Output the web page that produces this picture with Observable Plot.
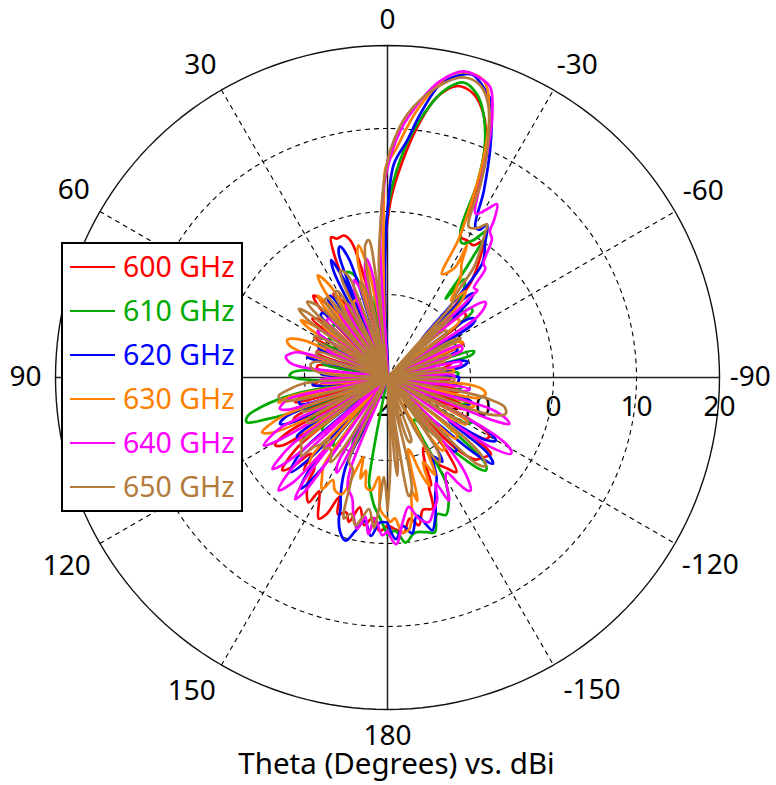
<!DOCTYPE html>
<html><head><meta charset="utf-8">
<script src="https://cdn.jsdelivr.net/npm/d3@7"></script>
<script src="https://cdn.jsdelivr.net/npm/@observablehq/plot@0.6"></script>
<style>
html,body{margin:0;padding:0;background:#fff}
#wrap{position:relative;width:776px;height:785px;overflow:hidden}
#legend{position:absolute;left:61px;top:242px;width:178px;height:266px;border:2px solid #000;background:#fff;font:28.5px "Noto Sans",sans-serif}
#legend div{position:absolute;left:60px;line-height:30px;white-space:nowrap}
#legend i{position:absolute;left:7px;width:45px;height:2px}
</style></head><body><div id="wrap"></div>
<script>
const s600=[[-180,-2.2],[-176,-1.5],[-174,-1.2],[-171,-2.8],[-168,-1.8],[-165,-3.5],[-161,-3.3],[-159,-6],[-158,-6],[-156,-9],[-153,-10.5],[-150,-8],[-147,-7],[-144,-5.9],[-141,-9],[-139,-15],[-136,-8],[-133,-5.5],[-130,-5],[-126.5,-4.5],[-124,-8],[-122,-6],[-119.8,-5.9],[-117,-9],[-115,-16],[-112.5,-10],[-110,-10.5],[-107,-18],[-103,-12],[-100,-11],[-97,-20],[-92,-12.5],[-90,-13],[-87,-20],[-80,-13],[-77,-12],[-74,-20],[-66,-10],[-63,-10.5],[-60,-18],[-52,-8],[-48,-8],[-45,-9],[-41,-4.5],[-38,-2],[-35,0],[-33,-1],[-30,-0.9],[-27.5,-0.9],[-26,2.8],[-24.5,7],[-22.2,11.3],[-20,13.8],[-16.9,15.7],[-13.4,16.1],[-10,14.3],[-6.8,10.4],[-3.5,5.4],[-1,1.3],[0.9,-3.9],[1.8,-10],[3,-20],[6,-12],[8,-11],[10,-18],[13,-8],[15,-3],[17.1,-2.1],[20,-2.2],[21.9,-1.8],[23.5,-4],[25,-10],[27,-20],[31,-9],[33,-8],[35,-17],[40,-8],[42.2,-6.7],[44,-8],[46,-18],[50,-9],[52,-8.5],[54,-18],[59,-10.5],[61,-10],[63,-20],[69,-11],[71,-11],[73,-20],[80,-11.5],[83,-11.5],[86,-20],[93,-12],[96,-11],[98,-20],[103,-9],[105,-8.5],[107,-20],[113,-8],[115,-7.5],[117,-17],[119,-6],[121,-4.2],[123,-5],[125,-14],[128,-6],[131.4,-3.1],[133,-4],[135,-7],[138,-5],[141,-6],[143,-4],[147.7,-2.2],[149,-4],[151,-3],[154,-1.1],[156,-2],[158,-4.5],[160,-2.5],[163,-3],[165,-2],[168,-4],[171,-2],[174,-3],[177,-1.5],[180,-2.2]];
const s610=[[-180,-1],[-177,-1.5],[-173.8,0],[-170,-1],[-166,-0.8],[-163,-0.5],[-160,-2.5],[-157,-2],[-154,-3.2],[-151,-5.5],[-148,-14],[-142,-12],[-138,-8],[-135,-4.5],[-133.5,-3.7],[-131.5,-4.2],[-129,-11],[-126,-18],[-120,-9],[-118,-8.5],[-116,-18],[-110,-10.5],[-108,-10],[-106,-20],[-100,-11.5],[-97,-11],[-95,-20],[-88,-11.5],[-86,-11.5],[-84,-20],[-75,-9.5],[-73,-9.1],[-71,-20],[-65,-11],[-62,-11],[-60,-20],[-52,-7],[-50,-7],[-48,-16],[-44,-8],[-41,-6],[-38,-5],[-36.4,-8.2],[-35.7,-3.9],[-34.1,1.4],[-32,-0.5],[-29,-1.5],[-26.4,-0.2],[-24.8,5.7],[-22.9,10.1],[-20,13.8],[-17.5,15.8],[-14.5,16.7],[-11.1,15.2],[-7.8,12],[-4.1,7.4],[-0.9,2.1],[1,-3],[2,-9],[3,-20],[7,-11],[9,-10],[11,-20],[16,-9],[18,-7],[21,-6.4],[23,-8],[25,-18],[32,-10],[34,-9.5],[36,-20],[45,-11],[47,-11],[49,-20],[55,-12],[57,-11.5],[59,-20],[62,-12],[64.3,-10.8],[66,-12],[68,-20],[76,-12],[78,-12],[80,-20],[85,-10],[87,-8.5],[88.8,-8.2],[90.5,-9],[92,-11],[94,-14],[96,-20],[100,-9],[103,-4.5],[105.5,-2.5],[107.6,-2.2],[109,-4.5],[110.5,-9],[112,-20],[118,-10],[120,-9.5],[122,-20],[128,-10],[130,-10],[132,-20],[140,-10],[142,-9.5],[144,-20],[152,-11],[154,-11],[156,-20],[169.5,-20],[170,-7.2],[171,-6.5],[174,-4.5],[177,-3],[180,-1]];
const s620=[[-180,-2.5],[-177,-0.5],[-174,-2],[-171,-1],[-168,-3],[-165,-1.5],[-163.7,-0.8],[-160.8,-2.4],[-157.9,-4.7],[-154,-6.5],[-150,-9],[-147,-7.9],[-145,-10],[-141,-17],[-138,-8],[-136,-8],[-134,-13],[-131,-6],[-129.3,-3.6],[-127,-5],[-125,-11],[-122.5,-6],[-120.2,-4.9],[-118,-6.5],[-116,-16],[-110,-10],[-106,-9.5],[-103,-20],[-96,-12],[-94,-11.5],[-91.6,-11.4],[-89.7,-11.4],[-87,-18],[-82,-11],[-79,-10.2],[-77,-11],[-75,-20],[-69,-11],[-67,-11],[-65,-20],[-58,-8],[-56.3,-7.3],[-54,-8],[-52,-18],[-47,-6.5],[-45.5,-5.5],[-44,-7],[-42,-14],[-39.8,-2.2],[-36,0],[-34,1.5],[-33,2],[-32,1],[-30.3,1],[-27.3,5.3],[-23.8,10.8],[-20.4,15.6],[-18,17],[-15.6,17.9],[-13,17.3],[-10.2,15.9],[-7.1,12],[-4.7,8.6],[-1.7,5.7],[0,0],[1,-5],[2,-12],[3,-20],[12,-10],[14,-9],[16,-20],[18,-5],[20,-3.2],[21.5,-4],[23,-15],[24,-7],[25.6,-4.3],[27,-6],[29,-20],[35,-8],[37,-8],[39,-20],[45,-9],[47,-9],[49,-20],[55,-10],[57,-10],[59,-20],[65,-11],[67,-11],[69,-20],[74,-11],[76,-10],[78,-20],[85,-12],[87,-12],[89,-20],[94,-11],[96,-11],[98,-20],[105,-9],[107,-9],[109,-20],[111,-7],[113.4,-5.9],[115,-7],[117,-20],[123,-7],[125,-7],[127,-20],[131,-6],[134.3,-3.7],[136,-6],[138,-15],[140,-5],[142,-3],[144,-6],[146,-20],[155,-8],[158,-5],[160.3,-3.2],[161,-2],[163,-0.5],[165.6,0.3],[168,-1],[171,-2.5],[174,-0.8],[177,-2.5],[180,-2.5]];
const s630=[[-180,-3],[-178.8,-2.6],[-177,-3],[-174.6,-1.3],[-172,-1.5],[-170,-3],[-168,-6],[-166.4,-4.7],[-165,-10],[-164,-11],[-163,-10.8],[-161,-8],[-159,-6],[-157,-9],[-154,-6.9],[-151,-12],[-149,-20],[-143,-9],[-141,-9],[-139,-20],[-132,-9],[-130,-9],[-128,-20],[-121,-9],[-119,-9],[-117,-20],[-110,-9.5],[-108,-9],[-106,-20],[-103,-9],[-101,-8.3],[-99.5,-8],[-97,-8.5],[-95,-10],[-93,-20],[-85,-12],[-83,-12],[-81,-20],[-75,-13],[-72,-13],[-70,-20],[-66,-10.5],[-64.7,-10],[-63,-10.5],[-61,-20],[-52,-9],[-50,-9],[-48,-15],[-44,-7],[-42,-6],[-40,-8],[-36,-5],[-33,-3.6],[-31,-1.4],[-31.5,-4.5],[-27.8,-5.9],[-27.2,-1.2],[-25.2,4.5],[-23.6,9],[-21.3,13.7],[-18,17.6],[-14,17.9],[-11.2,16.9],[-6.3,12.4],[-2,7.4],[0.5,5.3],[1.2,1],[2,-6],[3,-14],[4,-20],[8,-13],[10,-7],[12.3,-3.7],[14,-5],[15.5,-12],[17,-20],[22,-10],[24,-10],[26,-20],[32,-7],[34.3,-5.1],[36,-7],[37.5,-20],[39,-9],[40.5,-7],[42,-9],[43.5,-20],[49,-10],[51,-10],[53,-20],[55,-9],[56.6,-7.5],[58,-9],[60,-20],[66,-9],[68,-7.5],[69.4,-7.1],[72,-7.6],[74,-10],[76,-20],[84,-11],[86,-13],[88,-20],[92,-12],[95,-12],[97,-20],[101,-8],[103,-6.5],[105,-20],[110,-7],[112,-4.5],[113.6,-3.5],[115.5,-4.5],[117,-8],[119,-20],[124,-8],[126,-7],[128,-20],[136,-7],[138,-6],[140,-20],[144,-7],[147,-5.5],[149.6,-4.4],[152,-6],[155,-5],[158.7,-4.9],[161,-8],[163,-10],[165,-7.4],[167,-8.5],[169,-6.5],[172,-6.3],[175,-8],[177,-4],[180,-3]];
const s640=[[-180,-1.5],[-177,0.1],[-174,-2.5],[-170.7,-4.2],[-167.5,-2.6],[-164,-1.9],[-161,-3],[-157.7,-4.2],[-155.5,-6],[-153.5,-3.4],[-150,-6],[-148,-6.5],[-146.4,-4.9],[-145,-3.5],[-143.7,-3.1],[-141,-5],[-139,-9],[-136,-20],[-133,-11.5],[-131,-20],[-124,-5],[-121.6,-2.5],[-120,-3],[-118,-5.7],[-116,-15],[-115,-20],[-112,-6],[-110.8,-4.3],[-109,-5],[-107,-7],[-105,-20],[-100,-10.5],[-98,-10],[-96,-20],[-90,-12],[-88,-12],[-86,-20],[-80,-11],[-78,-11],[-76,-20],[-70,-10.5],[-67.9,-10.3],[-66,-10.5],[-64,-20],[-56,-7],[-53.5,-5.3],[-52.4,-5.1],[-50,-7],[-48,-13],[-46,-5.5],[-45.9,-4.9],[-44,-5],[-42,-2.4],[-40,-2],[-37,0.9],[-35,1.5],[-34.1,2.9],[-32.3,4.7],[-30.5,3.5],[-28.3,2.4],[-26,5.1],[-24,9.5],[-21.9,13.8],[-19.5,17.1],[-17,17.8],[-14,18],[-10.1,16.3],[-6.8,13.6],[-3,9.8],[0.6,4.1],[2.9,-3.1],[3.5,-10],[4,-20],[8,-8],[10,-5.5],[12,-7],[14,-20],[17,-9],[19,-7.6],[21,-9],[23,-20],[28,-10],[30,-10],[32,-20],[35,-11],[37,-10.5],[39,-20],[45,-10],[47,-10],[49,-20],[55,-10],[57,-10],[59,-20],[63,-13],[66,-12],[69,-20],[74,-9],[76,-8],[78.4,-7.5],[81,-8],[83,-9.5],[85,-20],[92,-12],[94,-12],[96,-20],[102,-8],[104,-7],[106.2,-6.5],[108,-7.5],[110,-20],[115,-6],[117,-4],[118.8,-3],[120,-5],[122,-20],[125,-6],[127,-3.5],[128.4,-2.3],[130,-4],[132,-20],[133,-6],[134.5,-2.5],[136,-1.1],[138,-3],[139.5,-10],[141,-4],[142.8,-1.6],[144,-3],[146,-20],[150,-8],[152,-7],[154,-20],[158,-8],[160,-6],[163.8,-4.8],[166,-3],[168.7,-1.4],[171,-3],[173,-1],[175,-3],[178,-1],[180,-1.5]];
const s650=[[-180,-4],[-178,-10],[-176,-20],[-175,-10],[-174.4,-8.1],[-173,-10],[-171,-20],[-170.5,-7],[-169.8,-5.5],[-168,-6],[-166.5,-9],[-165,-20],[-162,-12],[-160.5,-11.7],[-159,-12],[-157,-20],[-152,-12],[-148.8,-8],[-146,-9],[-144,-20],[-141,-11],[-139,-10],[-137,-20],[-134,-5],[-132,-4.1],[-130,-5],[-128,-8],[-126,-20],[-120,-9],[-118,-9],[-116,-20],[-110,-7],[-107,-5.1],[-104,-5.5],[-102,-7.5],[-101,-10],[-99,-20],[-93,-12],[-91,-12],[-89,-20],[-83,-13],[-81,-13],[-79,-20],[-72,-12],[-70,-12],[-68,-20],[-62,-10],[-60,-11],[-58,-20],[-53,-11],[-51,-11],[-49,-20],[-47,-9.5],[-46,-20],[-44.5,-9],[-43.5,-20],[-42,-8.5],[-41.5,-20],[-41.3,-8.2],[-39.5,-7],[-38,-3],[-36,-1],[-34.5,0.5],[-33,2],[-31,1],[-28.4,0.6],[-25.7,5.9],[-23.7,9.9],[-20.5,14.8],[-17.7,16.9],[-14.3,17.3],[-9.7,15.5],[-4.3,11.8],[-0.8,7.5],[1,3.7],[2.6,-1.5],[4.4,-6.3],[5.5,-12],[6,-20],[6.5,-8],[7.8,-3.3],[9.5,-3.8],[11,-7],[12,-20],[14,-9],[16,-8],[18,-20],[21,-7],[23.7,-5.9],[25,-7],[27,-20],[30,-8],[32,-8],[34,-20],[37,-8],[39,-8],[41,-20],[44,-8],[46.8,-6.7],[48,-8],[50,-20],[51,-7.5],[52.2,-6.5],[54,-8],[56,-20],[60,-10],[62,-10],[64,-20],[70,-11],[72,-11],[74,-20],[76,-13],[78,-11],[80.4,-10.6],[84,-11],[87,-13],[89,-20],[94,-10],[97,-8],[99.7,-6.7],[102,-7],[104,-9],[106,-20],[110,-9],[112,-9],[114,-20],[118,-9],[120,-9],[122,-20],[127,-7],[130,-6.5],[132.3,-5.9],[133.5,-8],[134.7,-8.4],[136,-10],[138,-8.5],[141,-9],[144,-8.5],[146,-7.7],[148,-10],[150,-20],[155,-9],[157,-8.5],[159,-8.3],[162,-3],[162.8,-2.2],[165,-3],[167.8,-1.8],[170,-3],[172,-4],[174.8,-1.8],[176.2,-4.1],[178,-8],[180,-4]];

const seriesNames=["600 GHz","610 GHz","620 GHz","630 GHz","640 GHz","650 GHz"];
const seriesData=[s600,s610,s620,s630,s640,s650];
const seriesColors=["#ff0000","#00aa00","#0000ff","#ff8000","#ff00ff","#b47b3c"];
const rMin=-20, pxPerDb=8.3, cx=387, cy=377;
const ringLevels=[-10,0,10];
const ringLabels=[-20,-10,0,10,20];
const solidSpokes=[0,90];
const dashSpokes=[30,60,120,150];
const thetaLabels=["0","30","60","90","120","150","180","-30","-60","-90","-120","-150"];
const thetaLabelAngle=[0,30.9,59.2,90,120.4,148,180,-31.3,-59.4,-90,-120.2,-146.8];
const thetaLabelDist=[43.1,43.9,44,43.6,44.8,44.5,43.2,44,44.2,43.7,45,45];

const W=776,H=785;
const X=(t,d)=>-(d-rMin)*Math.sin(t*Math.PI/180);
const Y=(t,d)=>(d-rMin)*Math.cos(t*Math.PI/180);
const FONT='"Noto Sans",sans-serif';
const circle=d3.range(0,361,2);

const marks=[];
for(const lv of ringLevels) marks.push(Plot.line(circle,{x:a=>X(a,lv),y:a=>Y(a,lv),stroke:"#000",strokeWidth:1.1,strokeDasharray:"4,5"}));
for(const a of dashSpokes) marks.push(Plot.line([a,a+180],{x:t=>X(t,20),y:t=>Y(t,20),stroke:"#000",strokeWidth:1.1,strokeDasharray:"4,5"}));
for(const a of solidSpokes) marks.push(Plot.line([a,a+180],{x:t=>X(t,20),y:t=>Y(t,20),stroke:"#222",strokeWidth:1.5}));
marks.push(Plot.line(circle,{x:a=>X(a,20),y:a=>Y(a,20),stroke:"#111",strokeWidth:1.4}));
marks.push(Plot.text(ringLabels,{x:d=>X(-90,d),y:d=>Y(-90,d),text:d=>String(d),dy:30,fill:"#000",fontSize:28}));
marks.push(Plot.text(thetaLabels,{x:(t,i)=>X(thetaLabelAngle[i],thetaLabelDist[i]-20),y:(t,i)=>Y(thetaLabelAngle[i],thetaLabelDist[i]-20),text:t=>t,fill:"#000",fontSize:28}));
seriesData.forEach((s,i)=>marks.push(Plot.line(s,{x:d=>X(d[0],d[1]),y:d=>Y(d[0],d[1]),stroke:seriesColors[i],strokeWidth:2.7,strokeLinejoin:"round",curve:"catmull-rom"})));
marks.push(Plot.text(["Theta (Degrees) vs. dBi"],{frameAnchor:"bottom",dx:8,dy:-12,fill:"#000",fontSize:29.5}));

const plot=Plot.plot({width:W,height:H,margin:0,
  style:{fontFamily:FONT,background:"#fff"},
  x:{axis:null,domain:[-cx/pxPerDb,(W-cx)/pxPerDb],range:[0,W]},
  y:{axis:null,domain:[-(H-cy)/pxPerDb,cy/pxPerDb],range:[H,0]},
  marks});
const wrap=document.getElementById("wrap");
wrap.appendChild(plot);
const lg=document.createElement("div");lg.id="legend";
seriesNames.forEach((n,i)=>{
  const t=document.createElement("div");t.textContent=n;t.style.color=seriesColors[i];t.style.top=(7+44*i)+"px";
  const l=document.createElement("i");l.style.background=seriesColors[i];l.style.top=(22+44*i)+"px";
  lg.append(l,t);
});
wrap.appendChild(lg);
</script></body></html>
